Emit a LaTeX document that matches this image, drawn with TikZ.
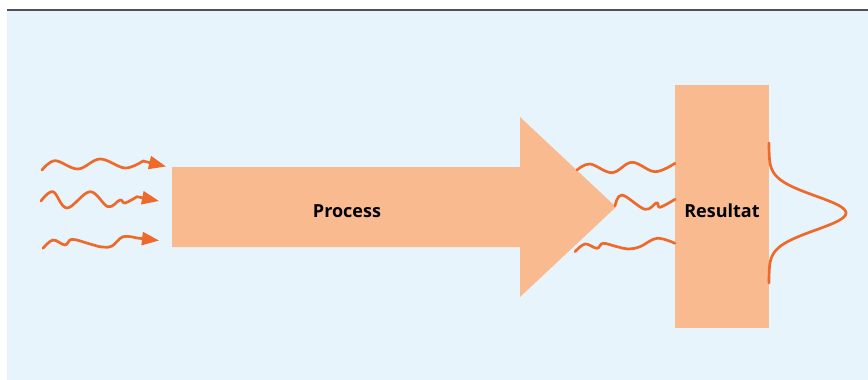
\documentclass[tikz,border=0pt]{standalone}
\usepackage{fontspec}
\setmainfont{Open Sans}
\usetikzlibrary{arrows.meta}
\definecolor{bgblue}{HTML}{E8F4FC}
\definecolor{boxfill}{HTML}{F8BA8E}
\definecolor{wave}{HTML}{EE6A2A}
\definecolor{topline}{HTML}{4D5257}
\tikzset{
  wavy/.style={draw=wave, line width=2.7pt, line cap=round, line join=round},
  wavyarrow/.style={wavy, -{Triangle[length=17pt,width=13pt]}},
  lbl/.style={font=\fontsize{18}{20}\selectfont\bfseries, text=black},
}
\begin{document}
\begin{tikzpicture}[x=1pt,y=-1pt]
\useasboundingbox (0,0) rectangle (868,380);
% background
\fill[bgblue] (7,10) rectangle (868,380);
\draw[topline, line width=2pt] (7,10) -- (868,10);
% process arrow
\fill[boxfill] (172,167) -- (520,167) -- (520,117) -- (616,207) -- (520,297) -- (520,247) -- (172,247) -- cycle;
\node[lbl] (proc) at (347,211) {Process};
% result box
\node[fill=boxfill, minimum width=94pt, minimum height=243pt, inner sep=0pt, anchor=north west] (res) at (675,85) {};
\node[lbl] (reslbl) at (722,211) {Resultat};
% incoming waves
\coordinate (t1) at (166,166.5);
\coordinate (t2) at (159,201);
\coordinate (t3) at (159,240.5);
\draw[wavyarrow] plot[smooth, tension=0.6] coordinates {(42,170) (55,160.7) (78,169) (100,159) (125,168) (143,161)} -- (t1);
\draw[wavyarrow] plot[smooth, tension=0.6] coordinates {(41,201) (53,191.7) (67,208) (90,191.7) (108,206.7) (120,200) (125,203) (137,196.7)} -- (t2);
\draw[wavyarrow] plot[smooth, tension=0.6] coordinates {(43,248.3) (53,240) (65,245) (72,239.3) (90,244) (102,247) (112,246) (123,236.7) (137,238)} -- (t3);
% outgoing waves
\draw[wavy] plot[smooth, tension=0.6] coordinates {(577,170) (590,164) (612,172.7) (632,162.3) (655,171.7) (675,163.3)};
\draw[wavy] plot[smooth, tension=0.6] coordinates {(615,206) (622,195) (645,209.3) (656.7,202.7) (660,207.3) (675,199.3)};
\draw[wavy] plot[smooth, tension=0.6] coordinates {(575,251.7) (585,244) (597,248.3) (603,243.3) (617,246.7) (628,249) (640,246.7) (657,238.3) (675,243.3)};
% gaussian
\draw[wavy] plot[domain=-70:70, samples=90, smooth] ({769+77*exp(-((\x/17)^2)/2)}, {213+\x});
\end{tikzpicture}
\end{document}
